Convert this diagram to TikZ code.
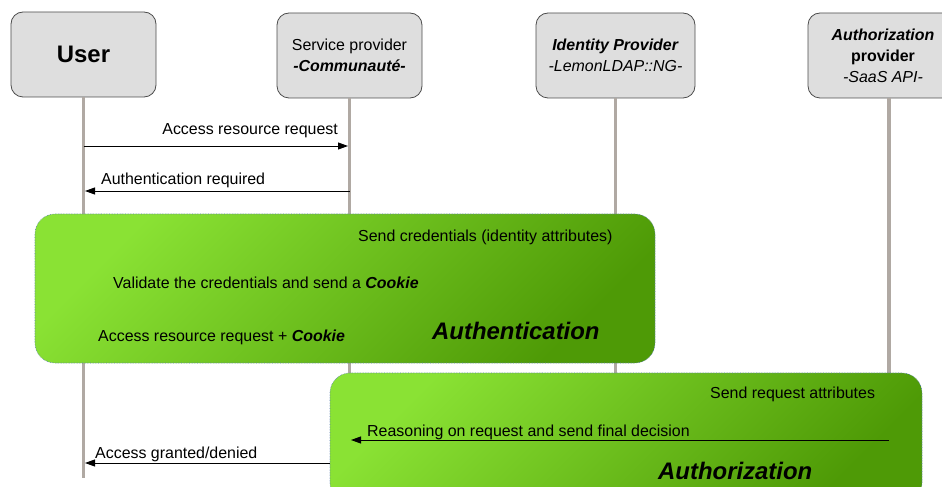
\documentclass[tikz,border=0pt]{standalone}
\usepackage{fontspec}
\setmainfont{Liberation Sans}
\usetikzlibrary{arrows.meta}

\definecolor{headfill}{HTML}{DEDEDE}
\definecolor{lifegray}{HTML}{B0A9A3}
\definecolor{greenlight}{HTML}{8AE234}
\definecolor{greendark}{HTML}{4E9A06}
\definecolor{rimblue}{HTML}{5A7FB0}

\tikzset{
  actor/.style={draw=black!70, fill=headfill, rounded corners=12bp, line width=0.8bp,
    align=center, inner sep=0pt, font=\fontsize{16}{21}\selectfont},
  lifeline/.style={draw=lifegray, line width=3.5bp},
  msg/.style={line width=0.9bp, shorten >=1.5bp, -{Triangle[length=10bp,width=7bp]}},
  lbl/.style={inner sep=0pt, font=\fontsize{16}{20}\selectfont},
  phase/.style={draw=rimblue, densely dotted, line width=0.6bp, rounded corners=20bp,
    top color=greenlight, bottom color=greendark, shading angle=45, inner sep=0pt},
  phasename/.style={inner sep=0pt, font=\fontsize{24}{28}\selectfont\bfseries\itshape}
}

\begin{document}
\begin{tikzpicture}[x=1bp, y=-1bp]
  \clip (0,0) rectangle (942,487);
  % actores
  \node[actor, minimum width=145bp, minimum height=85bp] (user) at (83.5,54.5)
    {\fontsize{24}{28}\selectfont\bfseries User};
  \node[actor, minimum width=145bp, minimum height=85bp] (sp) at (349.5,55.5)
    {Service provider\\\textbf{\textit{-Communauté-}}};
  \node[actor, minimum width=159bp, minimum height=85bp] (idp) at (615.5,55.5)
    {\textbf{\textit{Identity Provider}}\\\textit{-LemonLDAP::NG-}};
  \node[actor, minimum width=150bp, minimum height=85bp] (az) at (883,55.5)
    {\textbf{\textit{Authorization}}\\\textbf{provider}\\\textit{-SaaS API-}};
  \coordinate (azlife) at (889,98);
  % lignes de vie
  \draw[lifeline] (user.south) -- (user.south |- 0,478);
  \draw[lifeline] (sp.south) -- (sp.south |- 0,480);
  \draw[lifeline] (idp.south) -- (idp.south |- 0,480);
  \draw[lifeline] (azlife) -- (azlife |- 0,480);
  % messages
  \draw[msg] (user.south |- 0,146) -- (sp.south |- 0,146);
  \node[lbl, anchor=base east] at (338,135) {Access resource request};
  \draw[msg] (sp.south |- 0,191) -- (user.south |- 0,191);
  \node[lbl, anchor=base west] at (101,185) {Authentication required};
  % authentification
  \node[phase, minimum width=620bp, minimum height=149bp] (authn) at (345,288.5) {};
  \node[lbl, anchor=base west] at (358,242) {Send credentials (identity attributes)};
  \node[lbl, anchor=base west] at (113,289) {Validate the credentials and send a \textbf{\textit{Cookie}}};
  \node[lbl, anchor=base west] at (98,342) {Access resource request + \textbf{\textit{Cookie}}};
  \node[phasename, anchor=base west] at (432,340) {Authentication};
  % autorisation
  \node[phase, minimum width=592bp, minimum height=130bp] (authz) at (626,438) {};
  \node[lbl, anchor=base west] at (710,398) {Send request attributes};
  \draw[msg] (azlife |- 0,440) -- (sp.south |- 0,440);
  \node[lbl, anchor=base west] at (367,436) {Reasoning on request and send final decision};
  \node[phasename, anchor=base west] at (658,479) {Authorization};
  \draw[msg] (authz.west |- 0,463) -- (user.south |- 0,463);
  \node[lbl, anchor=base west] at (95,458) {Access granted/denied};
\end{tikzpicture}
\end{document}
